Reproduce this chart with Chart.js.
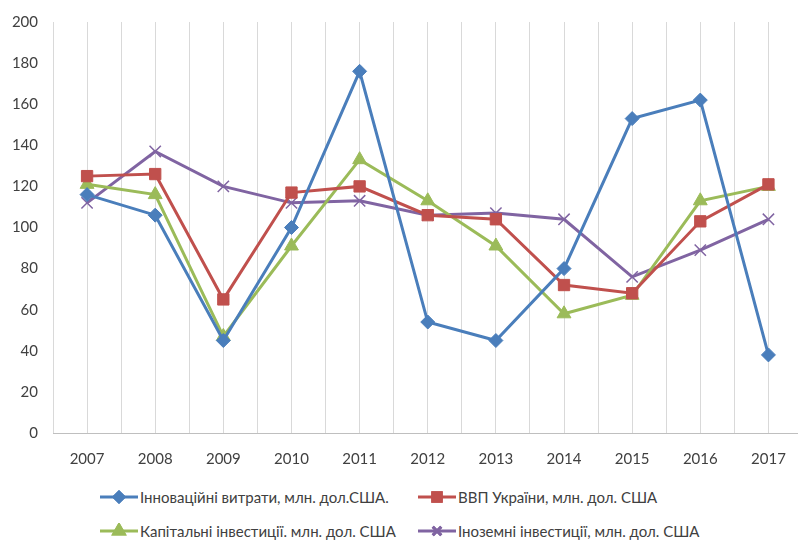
<!DOCTYPE html>
<html>
<head>
<meta charset="utf-8">
<script src="https://cdn.jsdelivr.net/npm/chart.js@4"></script>
<style>
  html, body { margin: 0; padding: 0; background: #fff; overflow: hidden; width: 798px; height: 541px; }
  #wrap { position: absolute; left: 0; top: 0; width: 812px; height: 473px; }
  #legend { position: absolute; left: 0; top: 488px; width: 798px; font-family: Lato, sans-serif; font-size: 15px; color: #404040; }
  .item { position: absolute; display: flex; align-items: center; white-space: nowrap; }
  .item canvas { margin-right: 2px; }
</style>
</head>
<body>
<div id="wrap"><canvas id="lineChart"></canvas></div>
<div id="legend"></div>
<script>
const years = ['2007', '2008', '2009', '2010', '2011', '2012', '2013', '2014', '2015', '2016', '2017'];
const innovation = [116, 106, 45, 100, 176, 54, 45, 80, 153, 162, 38];
const gdp = [125, 126, 65, 117, 120, 106, 104, 72, 68, 103, 121];
const capital = [121, 116, 47, 91, 133, 113, 91, 58, 67, 113, 120];
const foreign = [112, 137, 120, 112, 113, 106, 107, 104, 76, 89, 104];
const yTicks = { min: 0, max: 200, step: 20 };

const seriesNames = [
    'Інноваційні витрати, млн. дол.США.',
    'ВВП України, млн. дол. США',
    'Капітальні інвестиції. млн. дол. США',
    'Іноземні інвестиції, млн. дол. США'
];
const colors = ['#4a7ebb', '#c0504d', '#9bbb59', '#8064a2'];
const markers = ['rectRot', 'rect', 'triangle', 'crossRot'];
const markerSize = [7, 8, 8, 8];

function makeDataset(i, data) {
    return {
        label: seriesNames[i],
        data: data,
        borderColor: colors[i],
        backgroundColor: colors[i],
        borderWidth: 3,
        pointStyle: markers[i],
        pointRadius: markerSize[i],
        pointBorderWidth: markers[i] === 'crossRot' ? 1.5 : 1,
        pointBorderColor: colors[i],
        pointBackgroundColor: colors[i],
        tension: 0
    };
}

var ctx = document.getElementById('lineChart').getContext('2d');
var myLineChart = new Chart(ctx, {
    type: 'line',
    data: {
        labels: years,
        datasets: [
            makeDataset(0, innovation),
            makeDataset(1, gdp),
            makeDataset(2, capital),
            makeDataset(3, foreign)
        ]
    },
    options: {
        responsive: true,
        maintainAspectRatio: false,
        animation: false,
        layout: { padding: { top: 22, right: 5, left: 0, bottom: 0 } },
        plugins: {
            legend: { display: false },
            tooltip: { enabled: false }
        },
        scales: {
            x: {
                type: 'category',
                offset: true,
                grid: { display: true, offset: false, color: '#d9d9d9', lineWidth: 1, drawTicks: false },
                border: { display: true, color: '#bfbfbf', width: 1 },
                ticks: { color: '#404040', font: { family: 'Lato', size: 15 }, padding: 17 },
                afterFit: function (s) { s.height = 40; }
            },
            x2: {
                type: 'category',
                position: 'bottom',
                offset: true,
                labels: years,
                grid: { display: true, offset: true, color: '#d9d9d9', lineWidth: 1, drawTicks: false },
                border: { display: false },
                ticks: { display: false },
                afterFit: function (s) { s.height = 0; }
            },
            y: {
                min: yTicks.min,
                max: yTicks.max,
                grid: { display: false },
                border: { display: false },
                ticks: { stepSize: yTicks.step, color: '#404040', font: { family: 'Lato', size: 15 }, padding: 7 },
                afterFit: function (s) { s.width = 53; }
            }
        }
    }
});

// legend: line with marker, like the spreadsheet one
function drawIcon(i) {
    var c = document.createElement('canvas');
    c.width = 38; c.height = 16;
    var g = c.getContext('2d');
    g.strokeStyle = colors[i];
    g.lineWidth = 3;
    g.beginPath(); g.moveTo(0, 8); g.lineTo(38, 8); g.stroke();
    Chart.helpers.drawPoint(g, {
        pointStyle: markers[i], radius: markerSize[i] - 2, borderWidth: markers[i] === 'crossRot' ? 1.5 : 1,
        rotation: 0
    }, 19, 8);
    g.fillStyle = colors[i];
    g.fill();
    g.stroke();
    return c;
}
var legendPos = [[100, 0], [418, 0], [100, 34], [418, 34]];
var legend = document.getElementById('legend');
seriesNames.forEach(function (name, i) {
    var d = document.createElement('div');
    d.className = 'item';
    d.style.left = legendPos[i][0] + 'px';
    d.style.top = legendPos[i][1] + 'px';
    var g = drawIcon(i);
    d.appendChild(g);
    var s = document.createElement('span');
    s.textContent = name;
    d.appendChild(s);
    legend.appendChild(d);
});
</script>
</body>
</html>
